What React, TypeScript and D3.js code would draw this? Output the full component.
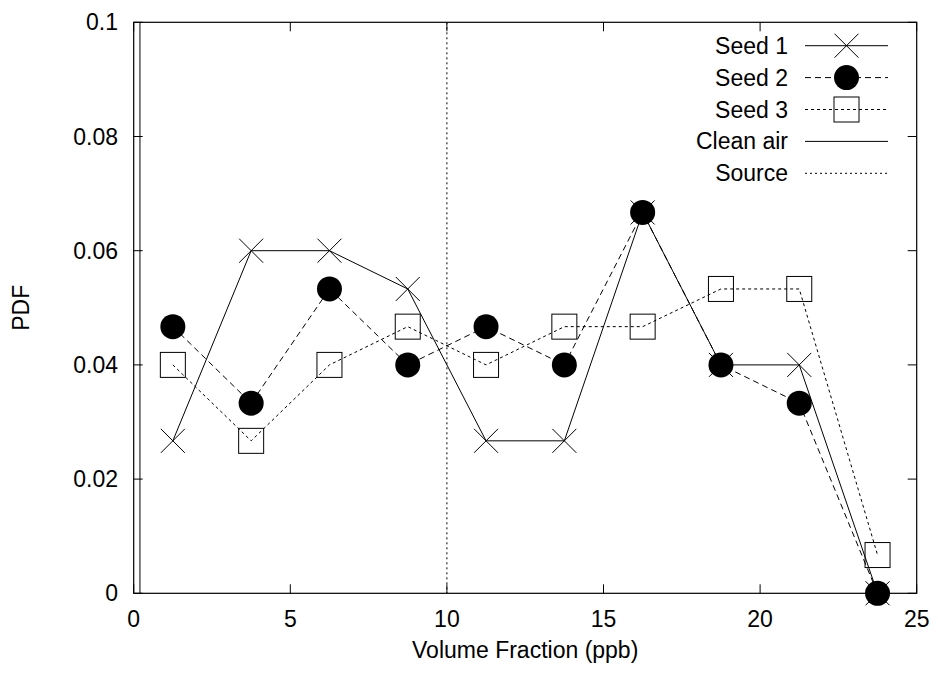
import React from 'react';
import * as d3 from 'd3';

// histogram bin centres (ppb)
const binCenters = [1.25, 3.75, 6.25, 8.75, 11.25, 13.75, 16.25, 18.75, 21.25, 23.75];
const seed1 = [0.0267, 0.06, 0.06, 0.0533, 0.0267, 0.0267, 0.0667, 0.04, 0.04, 0];
const seed2 = [0.0467, 0.0333, 0.0533, 0.04, 0.0467, 0.04, 0.0667, 0.04, 0.0333, 0];
const seed3 = [0.04, 0.0267, 0.04, 0.0467, 0.04, 0.0467, 0.0467, 0.0533, 0.0533, 0.0067];
const cleanAir = 0.2;
const source = 10;

const xTicks = [0, 5, 10, 15, 20, 25];
const yTicks = [0, 0.02, 0.04, 0.06, 0.08, 0.1];
const legendLabels = ['Seed 1', 'Seed 2', 'Seed 3', 'Clean air', 'Source'];

const W = 938, H = 675;
const left = 133.7, right = 916.7, top = 22.3, bottom = 593.3;
const font = '"Liberation Sans", Arial, sans-serif';
const fs = 23;
const tick = 9;

const x = d3.scaleLinear().domain([0, 25]).range([left, right]);
const y = d3.scaleLinear().domain([0, 0.1]).range([bottom, top]);

const styles = [
  { dash: undefined, marker: 'cross' },
  { dash: '6,4', marker: 'circle' },
  { dash: '3,3', marker: 'square' },
  { dash: undefined, marker: 'none' },
  { dash: '2,3', marker: 'none' },
];

function Marker({ type, cx, cy }: { type: string; cx: number; cy: number }) {
  if (type === 'cross') {
    const s = 12;
    return (
      <path d={`M${cx - s},${cy - s}L${cx + s},${cy + s}M${cx - s},${cy + s}L${cx + s},${cy - s}`}
        stroke="#000" strokeWidth={1} fill="none" />
    );
  }
  if (type === 'circle') return <circle cx={cx} cy={cy} r={12.5} fill="#000" />;
  if (type === 'square') {
    const s = 12.5;
    return <rect x={cx - s} y={cy - s} width={2 * s} height={2 * s} fill="none" stroke="#000" strokeWidth={1} />;
  }
  return null;
}

export default function App() {
  const line = d3.line<[number, number]>()
    .x(d => x(d[0]))
    .y(d => y(d[1]));

  const series = [seed1, seed2, seed3];

  return (
    <svg width={W} height={H} style={{ position: 'absolute', left: 0, top: 0, background: '#fff' }}
      fontFamily={font} fontSize={fs}>
      <rect x={0} y={0} width={W} height={H} fill="#fff" />

      {/* ticks, mirrored on all sides */}
      {xTicks.map(t => (
        <g key={'x' + t}>
          <line x1={x(t)} x2={x(t)} y1={bottom} y2={bottom - tick} stroke="#000" />
          <line x1={x(t)} x2={x(t)} y1={top} y2={top + tick} stroke="#000" />
          <text x={x(t)} y={627} textAnchor="middle">{t}</text>
        </g>
      ))}
      {yTicks.map(t => (
        <g key={'y' + t}>
          <line x1={left} x2={left + tick} y1={y(t)} y2={y(t)} stroke="#000" />
          <line x1={right} x2={right - tick} y1={y(t)} y2={y(t)} stroke="#000" />
          <text x={118} y={y(t) + 8} textAnchor="end">{t === 0 ? '0' : String(t)}</text>
        </g>
      ))}

      {/* reference lines */}
      <line x1={x(cleanAir)} x2={x(cleanAir)} y1={top} y2={bottom} stroke="#000" strokeWidth={1} />
      <line x1={x(source)} x2={x(source)} y1={top} y2={bottom} stroke="#000" strokeWidth={1}
        strokeDasharray={styles[4].dash} />

      {series.map((s, i) => {
        const pts = binCenters.map((c, j) => [c, s[j]] as [number, number]);
        return (
          <g key={'s' + i}>
            <path d={line(pts) || ''} fill="none" stroke="#000" strokeWidth={1}
              strokeDasharray={styles[i].dash} />
            {pts.map((p, j) => <Marker key={j} type={styles[i].marker} cx={x(p[0])} cy={y(p[1])} />)}
          </g>
        );
      })}

      {/* frame */}
      <rect x={left} y={top} width={right - left} height={bottom - top} fill="none" stroke="#000" strokeWidth={1.2} />

      {/* legend */}
      {legendLabels.map((lab, i) => {
        const ly = 45.7 + i * 31.9;
        return (
          <g key={'l' + i}>
            <text x={788} y={ly + 8} textAnchor="end">{lab}</text>
            <line x1={805} x2={888} y1={ly} y2={ly} stroke="#000" strokeWidth={1} strokeDasharray={styles[i].dash} />
            <Marker type={styles[i].marker} cx={846.5} cy={ly} />
          </g>
        );
      })}

      {/* axis titles */}
      <text x={(left + right) / 2} y={658} textAnchor="middle">Volume Fraction (ppb)</text>
      <text transform={`translate(29,${(top + bottom) / 2}) rotate(-90)`} textAnchor="middle">PDF</text>
    </svg>
  );
}
